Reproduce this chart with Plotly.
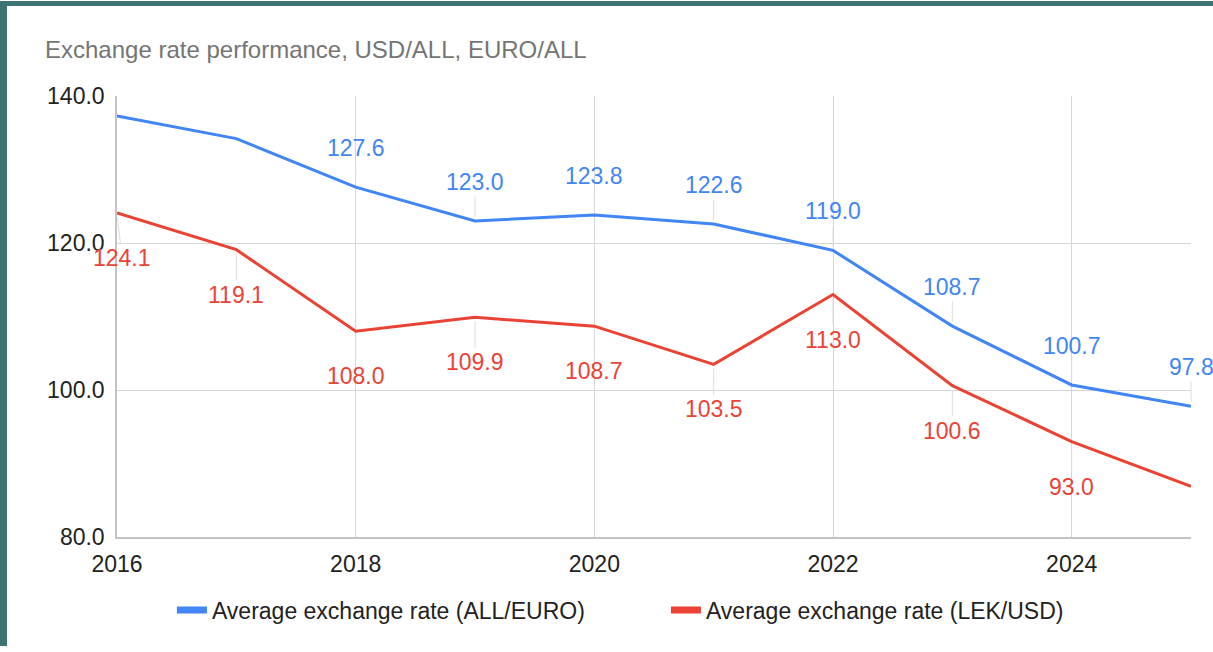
import plotly.graph_objects as go

# Annual averages
years = [2016, 2017, 2018, 2019, 2020, 2021, 2022, 2023, 2024, 2025]
all_euro = [137.3, 134.2, 127.6, 123.0, 123.8, 122.6, 119.0, 108.7, 100.7, 97.8]
lek_usd = [124.1, 119.1, 108.0, 109.9, 108.7, 103.5, 113.0, 100.6, 93.0, 86.9]

# Which points carry a value label
euro_labelled = [False, False, True, True, True, True, True, True, True, True]
usd_labelled = [True, True, True, True, True, True, True, True, True, False]

x_ticks = [2016, 2018, 2020, 2022, 2024]
y_ticks = [80, 100, 120, 140]
y_tick_text = ["80.0", "100.0", "120.0", "140.0"]

series_names = ["Average exchange rate (ALL/EURO)", "Average exchange rate (LEK/USD)"]
BLUE = "#4285F4"
RED = "#EA4335"
FONT = "Liberation Sans, Arial, sans-serif"
FS = 23

W, H = 1213, 652
ML, MR, MT, MB = 117, 22, 96, 110

fig = go.Figure()

for vals, col, name in [(all_euro, BLUE, series_names[0]), (lek_usd, RED, series_names[1])]:
    fig.add_trace(go.Scatter(x=years, y=vals, mode="lines", line=dict(color=col, width=3),
                             showlegend=False, hoverinfo="x+y", name=name))
    # legend entry with a thicker swatch
    fig.add_trace(go.Scatter(x=[None], y=[None], mode="lines", line=dict(color=col, width=7),
                             name=name, showlegend=True))

annotations = []
for yr, v, lab in zip(years, all_euro, euro_labelled):
    if lab:
        annotations.append(dict(x=yr, y=v, xref="x", yref="y", text=f"{v:.1f}",
                                showarrow=True, arrowhead=0, arrowwidth=1, arrowcolor="#dcdcdc",
                                ax=0, ay=-39, standoff=4,
                                font=dict(family=FONT, size=FS, color=BLUE)))
for yr, v, lab in zip(years, lek_usd, usd_labelled):
    if lab:
        annotations.append(dict(x=yr, y=v, xref="x", yref="y", text=f"{v:.1f}",
                                showarrow=True, arrowhead=0, arrowwidth=1, arrowcolor="#dcdcdc",
                                ax=5 if yr == years[0] else 0, ay=45, standoff=4,
                                font=dict(family=FONT, size=FS, color=RED)))

pw, ph = W - ML - MR, H - MT - MB


def px_x(p):
    return (p - ML) / pw


def px_y(p):
    return (H - MB - p) / ph


TEAL = "#3d7373"
shapes = [
    dict(type="rect", xref="paper", yref="paper", x0=px_x(0), x1=px_x(W), y0=px_y(5), y1=px_y(0),
         fillcolor=TEAL, line=dict(width=0), layer="above"),
    dict(type="rect", xref="paper", yref="paper", x0=px_x(0), x1=px_x(7), y0=px_y(H), y1=px_y(0),
         fillcolor=TEAL, line=dict(width=0), layer="above"),
]

fig.update_layout(
    width=W, height=H,
    margin=dict(l=ML, r=MR, t=MT, b=MB),
    paper_bgcolor="white", plot_bgcolor="white",
    font=dict(family=FONT, size=FS, color="#222222"),
    title=dict(text="Exchange rate performance, USD/ALL, EURO/ALL",
               font=dict(family=FONT, size=24, color="#757575"),
               xref="container", yref="container", x=45 / W, y=1 - 50 / H,
               xanchor="left", yanchor="middle"),
    xaxis=dict(range=[2016, 2025], tickvals=x_ticks, ticktext=[str(t) for t in x_ticks],
               showgrid=True, gridcolor="#d6d6d6", gridwidth=1,
               showline=True, linecolor="#c4c4c4", linewidth=1.5,
               zeroline=False, ticks="", ticklabelstandoff=5,
               tickfont=dict(family=FONT, size=FS, color="#222222")),
    yaxis=dict(range=[80, 140], tickvals=y_ticks, ticktext=y_tick_text,
               showgrid=True, gridcolor="#d6d6d6", gridwidth=1,
               showline=True, linecolor="#c4c4c4", linewidth=1.5,
               zeroline=False, ticks="", ticklabelstandoff=6,
               tickfont=dict(family=FONT, size=FS, color="#222222")),
    legend=dict(orientation="h", xref="container", yref="container",
                x=0.549, y=1 - 610 / H, xanchor="center", yanchor="middle",
                font=dict(family=FONT, size=FS, color="#222222"),
                itemwidth=30, entrywidth=449, entrywidthmode="pixels",
                tracegroupgap=0, bgcolor="rgba(0,0,0,0)"),
    annotations=annotations,
    shapes=shapes,
)

fig.write_html("out.html")
